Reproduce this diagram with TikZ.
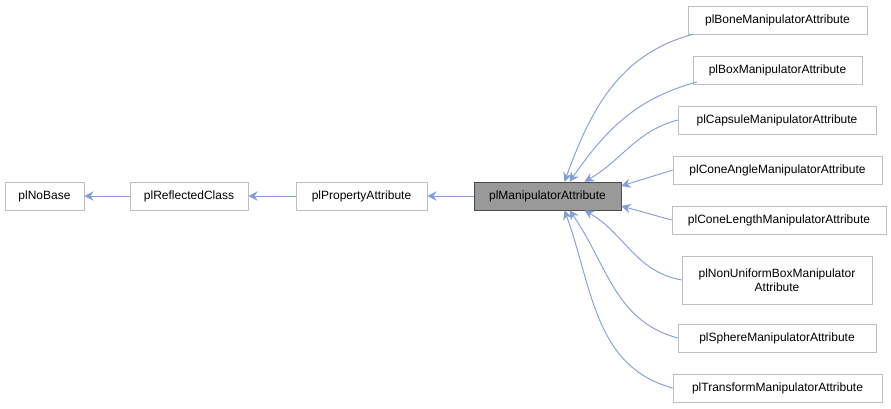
\documentclass[tikz,border=0pt]{standalone}
\usepackage{fontspec}
\setmainfont{Liberation Sans}
\usetikzlibrary{arrows.meta,calc}
\begin{document}
\begin{tikzpicture}[x=0.75pt,y=-0.75pt,
  box/.style={draw=black!25,fill=white,font=\fontsize{9}{10.5}\selectfont,inner sep=0pt,minimum height=21pt,anchor=center,align=center},
  edge/.style={draw=cyan!40!blue!50!white,line width=0.7pt,{Stealth[length=7pt,width=7pt]}-}]
\useasboundingbox (0,0) rectangle (891,408);
\node[box,minimum width=59.25pt] (nb) at (44.5,196) {plNoBase};
\node[box,minimum width=88.5pt] (rc) at (189,196) {plReflectedClass};
\node[box,minimum width=98.25pt] (pa) at (361.5,196) {plPropertyAttribute};
\node[box,minimum width=110.25pt,draw=black!70,fill=black!40] (m) at (547.5,196) {plManipulatorAttribute};
\node[box,minimum width=134.25pt] (b1) at (777.5,20) {plBoneManipulatorAttribute};
\node[box,minimum width=126.75pt] (b2) at (777.5,70) {plBoxManipulatorAttribute};
\node[box,minimum width=148.5pt] (b3) at (777,120) {plCapsuleManipulatorAttribute};
\node[box,minimum width=156.75pt] (b4) at (777.5,170) {plConeAngleManipulatorAttribute};
\node[box,minimum width=160.5pt] (b5) at (779,220) {plConeLengthManipulatorAttribute};
\node[box,minimum width=142.5pt,minimum height=36pt] (b6) at (777,280) {plNonUniformBoxManipulator\\Attribute};
\node[box,minimum width=148.5pt] (b7) at (777,338) {plSphereManipulatorAttribute};
\node[box,minimum width=156.75pt] (b8) at (777.5,388) {plTransformManipulatorAttribute};
\draw[edge] (nb.east) -- (rc.west);
\draw[edge] (rc.east) -- (pa.west);
\draw[edge] (pa.east) -- (m.west);
\draw[edge] ($(m.north)+(17,0)$) to[out=70,in=195] (b1.south west -| 693,32);
\draw[edge] ($(m.north)+(22,0)$) to[out=55,in=195] (697,82);
\draw[edge] ($(m.north)+(37,0)$) to[out=30,in=195] (b3.west);
\draw[edge] ($(m.east)+(0,-10)$) -- (b4.west);
\draw[edge] ($(m.east)+(0,10)$) -- (b5.west);
\draw[edge] ($(m.south)+(37,0)$) to[out=-30,in=170] (b6.west);
\draw[edge] ($(m.south)+(22,0)$) to[out=-55,in=165] (b7.west);
\draw[edge] ($(m.south)+(17,0)$) to[out=-70,in=165] (b8.west);
\end{tikzpicture}
\end{document}
